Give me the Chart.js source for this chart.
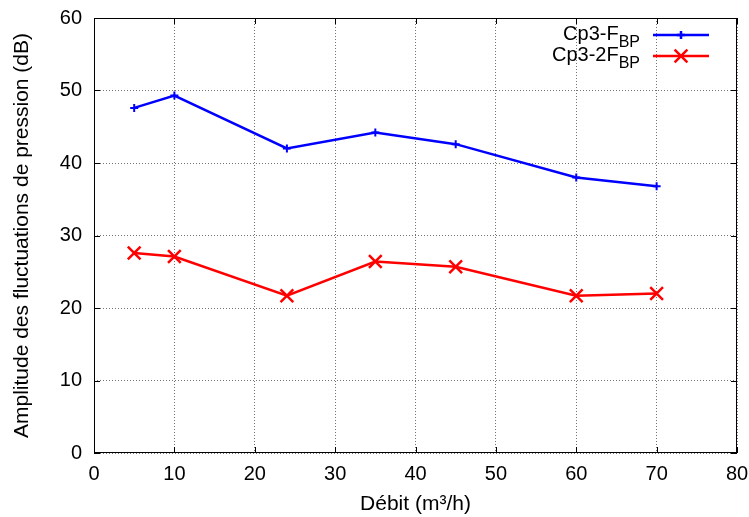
<!DOCTYPE html>
<html>
<head>
<meta charset="utf-8">
<script src="https://cdn.jsdelivr.net/npm/chart.js@4.4.0/dist/chart.umd.min.js"></script>
<style>
html,body{margin:0;padding:0;background:#fff;}
#wrap{width:749px;height:517px;}
</style>
</head>
<body>
<div id="wrap"><canvas id="c" width="749" height="517"></canvas></div>
<script>
const debit = [5, 10, 24, 35, 45, 60, 70];
const cp3F = [47.6, 49.3, 42.0, 44.2, 42.6, 38.0, 36.8];
const cp3_2F = [27.6, 27.1, 21.7, 26.4, 25.7, 21.7, 22.0];
const xTicks = [0, 10, 20, 30, 40, 50, 60, 70, 80];
const yTicks = [0, 10, 20, 30, 40, 50, 60];
const seriesNames = [["Cp3-F", "BP"], ["Cp3-2F", "BP"]];
const xTitle = "Débit (m³/h)";
const yTitle = "Amplitude des fluctuations de pression (dB)";

const FONT = "'Liberation Sans', Arial, sans-serif";
const FS = 20;
const FT = 21;

const frame = {
  id: 'frame',
  afterDraw(chart) {
    const {ctx, chartArea: a, scales} = chart;
    ctx.save();
    ctx.strokeStyle = '#000';
    ctx.lineWidth = 1;
    ctx.strokeRect(a.left + 0.5, a.top + 0.5, a.right - a.left - 1, a.bottom - a.top - 1);
    const tl = 6;
    ctx.beginPath();
    xTicks.forEach(v => {
      const x = Math.round(scales.x.getPixelForValue(v)) + 0.5;
      ctx.moveTo(x, a.bottom); ctx.lineTo(x, a.bottom - tl);
      ctx.moveTo(x, a.top); ctx.lineTo(x, a.top + tl);
    });
    yTicks.forEach(v => {
      const y = Math.round(scales.y.getPixelForValue(v)) + 0.5;
      ctx.moveTo(a.left, y); ctx.lineTo(a.left + tl, y);
      ctx.moveTo(a.right, y); ctx.lineTo(a.right - tl, y);
    });
    ctx.stroke();

    // legend
    const textRight = 640, lineX0 = 653, lineX1 = 709;
    const rows = [35, 56];
    chart.data.datasets.forEach((ds, i) => {
      const y = rows[i];
      const [main, sub] = seriesNames[i];
      ctx.fillStyle = '#000';
      ctx.textBaseline = 'alphabetic';
      ctx.textAlign = 'left';
      ctx.font = FS + 'px ' + FONT;
      const mw = ctx.measureText(main).width;
      ctx.font = '16px ' + FONT;
      const sw = ctx.measureText(sub).width;
      const x0 = textRight - mw - sw;
      ctx.font = FS + 'px ' + FONT;
      ctx.fillText(main, x0, y + 5);
      ctx.font = '16px ' + FONT;
      ctx.fillText(sub, x0 + mw, y + 12);
      ctx.strokeStyle = ds.borderColor;
      ctx.lineWidth = ds.borderWidth;
      ctx.beginPath();
      ctx.moveTo(lineX0, y); ctx.lineTo(lineX1, y);
      ctx.stroke();
      Chart.helpers.drawPoint(ctx, {
        pointStyle: ds.pointStyle, radius: ds.pointRadius, borderWidth: ds.pointBorderWidth
      }, (lineX0 + lineX1) / 2, y);
    });
    ctx.restore();
  }
};

new Chart(document.getElementById('c'), {
  type: 'line',
  data: {
    datasets: [
      {
        label: seriesNames[0].join(''),
        data: debit.map((x, i) => ({x, y: cp3F[i]})),
        borderColor: '#0000ff', backgroundColor: '#0000ff',
        borderWidth: 2.5, pointStyle: 'cross', pointRadius: 4,
        pointBorderWidth: 2, pointBorderColor: '#0000ff', tension: 0
      },
      {
        label: seriesNames[1].join(''),
        data: debit.map((x, i) => ({x, y: cp3_2F[i]})),
        borderColor: '#ff0000', backgroundColor: '#ff0000',
        borderWidth: 2.5, pointStyle: 'crossRot', pointRadius: 9,
        pointBorderWidth: 2.5, pointBorderColor: '#ff0000', tension: 0
      }
    ]
  },
  options: {
    responsive: false,
    animation: false,
    events: [],
    layout: {padding: {top: 18, right: 12, left: 0, bottom: 0}},
    plugins: {legend: {display: false}, tooltip: {enabled: false}},
    scales: {
      x: {
        type: 'linear', min: 0, max: 80,
        afterBuildTicks: s => { s.ticks = xTicks.map(v => ({value: v})); },
        afterFit: s => { s.height = 517 - 453; s.paddingLeft = 0; s.paddingRight = 0; },
        grid: {color: 'rgba(0,0,0,0.55)', lineWidth: 1, drawTicks: false},
        border: {display: false, dash: [1, 2]},
        ticks: {color: '#000', font: {family: FONT, size: FS}, padding: 9, maxRotation: 0},
        title: {display: true, text: xTitle, color: '#000', font: {family: FONT, size: FT}, padding: {top: 4, bottom: 0}}
      },
      y: {
        type: 'linear', min: 0, max: 60,
        afterBuildTicks: s => { s.ticks = yTicks.map(v => ({value: v})); },
        afterFit: s => { s.width = 94; s.paddingTop = 0; s.paddingBottom = 0; },
        grid: {color: 'rgba(0,0,0,0.55)', lineWidth: 1, drawTicks: false},
        border: {display: false, dash: [1, 2]},
        ticks: {color: '#000', font: {family: FONT, size: FS}, padding: 12},
        title: {display: true, text: yTitle, color: '#000', font: {family: FONT, size: FT}, padding: {top: 10, bottom: 0}}
      }
    }
  },
  plugins: [frame]
});
</script>
</body>
</html>
